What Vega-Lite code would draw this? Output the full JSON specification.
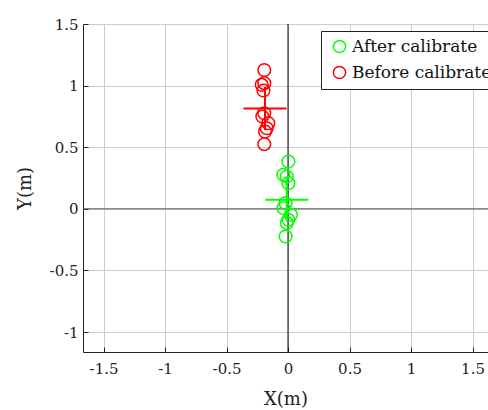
{
  "$schema": "https://vega.github.io/schema/vega-lite/v6.json",
  "autosize": {"type": "none"},
  "width": 405,
  "height": 328,
  "padding": {"left": 83, "top": 24, "right": 0, "bottom": 58},
  "background": "white",
  "config": {
    "view": {"stroke": null},
    "font": "DejaVu Serif",
    "axis": {
      "labelFont": "DejaVu Serif",
      "labelFontSize": 15,
      "labelColor": "#222",
      "titleFont": "DejaVu Serif",
      "titleFontSize": 18,
      "titleFontWeight": "normal",
      "titleColor": "#222",
      "domainColor": "#222",
      "tickColor": "#222",
      "gridColor": "#cccccc",
      "gridOpacity": 1,
      "tickSize": -5,
      "labelPadding": 10
    }
  },
  "datasets": {
    "pts": [
      {"series": "Before calibrate", "x": -0.193, "y": 1.127},
      {"series": "Before calibrate", "x": -0.214, "y": 1.006},
      {"series": "Before calibrate", "x": -0.193, "y": 1.02},
      {"series": "Before calibrate", "x": -0.2, "y": 0.96},
      {"series": "Before calibrate", "x": -0.193, "y": 0.776},
      {"series": "Before calibrate", "x": -0.209, "y": 0.749},
      {"series": "Before calibrate", "x": -0.16, "y": 0.695},
      {"series": "Before calibrate", "x": -0.173, "y": 0.654},
      {"series": "Before calibrate", "x": -0.187, "y": 0.627},
      {"series": "Before calibrate", "x": -0.193, "y": 0.525},
      {"series": "After calibrate", "x": 0.003, "y": 0.384},
      {"series": "After calibrate", "x": -0.038, "y": 0.276},
      {"series": "After calibrate", "x": -0.01, "y": 0.262},
      {"series": "After calibrate", "x": 0.003, "y": 0.208},
      {"series": "After calibrate", "x": -0.02, "y": 0.046},
      {"series": "After calibrate", "x": -0.038, "y": 0.006},
      {"series": "After calibrate", "x": 0.024, "y": -0.049},
      {"series": "After calibrate", "x": 0.003, "y": -0.089},
      {"series": "After calibrate", "x": -0.01, "y": -0.116},
      {"series": "After calibrate", "x": -0.02, "y": -0.225}
    ],
    "means": [
      {"series": "Before calibrate", "mx": -0.187, "my": 0.815, "xlo": -0.362, "xhi": -0.012, "ylo": 0.64, "yhi": 0.99},
      {"series": "After calibrate", "mx": -0.01, "my": 0.073, "xlo": -0.185, "xhi": 0.165, "ylo": -0.102, "yhi": 0.248}
    ],
    "zero": [{"v": 0}]
  },
  "layer": [
    {
      "data": {"name": "zero"},
      "mark": {"type": "rule", "color": "#000000", "strokeWidth": 1},
      "encoding": {
        "x": {
          "field": "v", "type": "quantitative",
          "scale": {"domain": [-1.667, 1.626], "nice": false, "zero": false},
          "axis": {"title": "X(m)", "values": [-1.5, -1, -0.5, 0, 0.5, 1, 1.5], "labelExpr": "toString(datum.value)", "grid": true, "labelPadding": 14, "titlePadding": 14}
        }
      }
    },
    {
      "data": {"name": "zero"},
      "mark": {"type": "rule", "color": "#555555", "strokeWidth": 1},
      "encoding": {
        "y": {
          "field": "v", "type": "quantitative",
          "scale": {"domain": [-1.162, 1.5], "nice": false, "zero": false},
          "axis": {"title": "Y(m)", "values": [-1, -0.5, 0, 0.5, 1, 1.5], "labelExpr": "toString(datum.value)", "grid": true, "titlePadding": 15}
        }
      }
    },
    {
      "data": {"name": "pts"},
      "mark": {"type": "point", "shape": "circle", "filled": false, "size": 160, "strokeWidth": 1.5, "opacity": 1},
      "encoding": {
        "x": {"field": "x", "type": "quantitative"},
        "y": {"field": "y", "type": "quantitative"},
        "color": {
          "field": "series", "type": "nominal",
          "scale": {"domain": ["After calibrate", "Before calibrate"], "range": ["#00ff00", "#ff0000"]},
          "legend": {
            "title": null,
            "orient": "none",
            "legendX": 238,
            "legendY": 7,
            "strokeColor": "#222",
            "fillColor": "white",
            "padding": 7,
            "symbolOffset": 3,
            "symbolSize": 150,
            "symbolStrokeWidth": 1.5,
            "symbolType": "circle",
            "labelFont": "DejaVu Serif",
            "labelFontSize": 17,
            "labelColor": "#111",
            "labelOffset": 4,
            "rowPadding": 7,
            "labelLimit": 300
          }
        }
      }
    },
    {
      "data": {"name": "means"},
      "mark": {"type": "rule", "strokeWidth": 2},
      "encoding": {
        "x": {"field": "xlo", "type": "quantitative"},
        "x2": {"field": "xhi"},
        "y": {"field": "my", "type": "quantitative"},
        "color": {"field": "series", "type": "nominal", "legend": null}
      }
    },
    {
      "data": {"name": "means"},
      "mark": {"type": "rule", "strokeWidth": 2},
      "encoding": {
        "x": {"field": "mx", "type": "quantitative"},
        "y": {"field": "ylo", "type": "quantitative"},
        "y2": {"field": "yhi"},
        "color": {"field": "series", "type": "nominal", "legend": null}
      }
    }
  ]
}
